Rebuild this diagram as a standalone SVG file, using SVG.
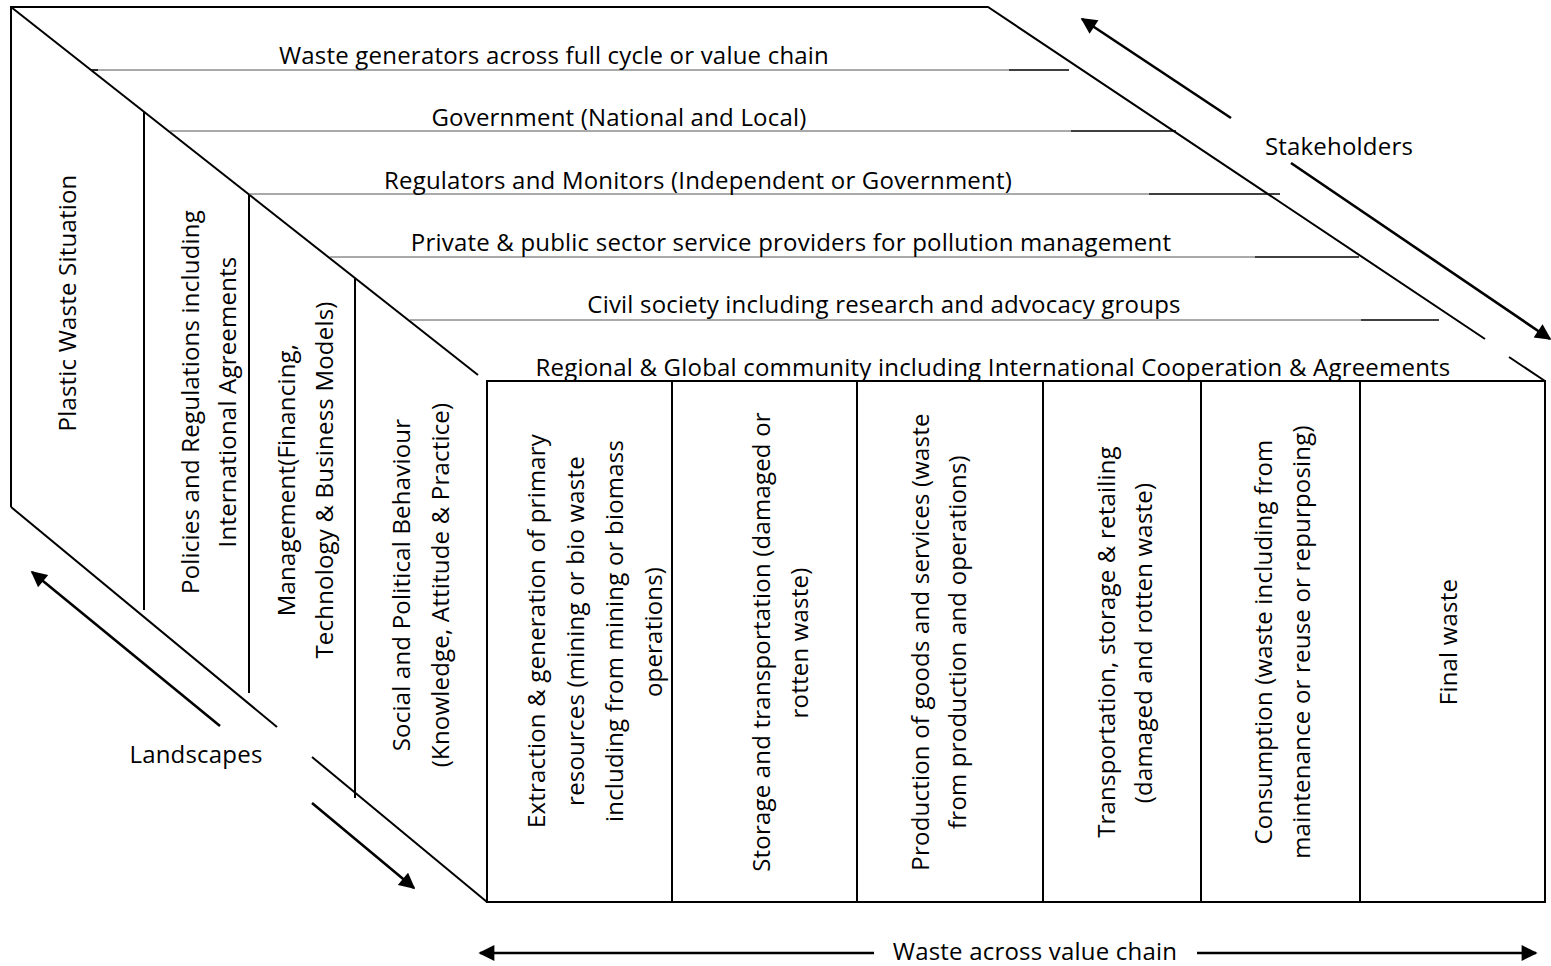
<svg xmlns="http://www.w3.org/2000/svg" width="1551" height="966" viewBox="0 0 1551 966">
<style>
text{font-family:"Open Sans",Lato,"Liberation Sans",sans-serif;font-size:24px;letter-spacing:0.2px;fill:#000}
.c{text-anchor:middle}
.edge{stroke:#000;stroke-width:2;fill:none}
.thin{stroke:#555;stroke-width:1;fill:none}
.tick{stroke:#000;stroke-width:1.6;fill:none}
.arr{stroke:#000;stroke-width:2.6;fill:none}
</style>
<defs>
<marker id="ah" viewBox="0 0 10 10" refX="9" refY="5" markerWidth="20" markerHeight="16" markerUnits="userSpaceOnUse" orient="auto">
<path d="M0,0 L10,5 L0,10 z" fill="#000"/>
</marker>
</defs>
<rect width="1551" height="966" fill="#fff"/>

<g id="frame">
<path class="edge" d="M11,507 L11,7 L988,7 L1485,339"/>
<path class="edge" d="M1509,357 L1545,381"/>
<path class="edge" d="M11,7 L478,375"/>
<path class="edge" d="M11,507 L277,727"/>
<path class="edge" d="M312,757 L487,902"/>
</g>

<g id="stakeholder-rows">
<path class="thin" d="M91,70 H1009"/>
<path class="tick" d="M91,70 H98 M1009,70 H1069"/>
<path class="thin" d="M170,131 H1071"/>
<path class="tick" d="M1071,131 H1176"/>
<path class="thin" d="M249,194 H1149"/>
<path class="tick" d="M1149,194 H1280"/>
<path class="thin" d="M330,257 H1255"/>
<path class="tick" d="M1255,257 H1359"/>
<path class="thin" d="M410,320 H1361"/>
<path class="tick" d="M1361,320 H1439"/>
<text class="c" x="554" y="64">Waste generators across full cycle or value chain</text>
<text class="c" x="619" y="126">Government (National and Local)</text>
<text class="c" x="698" y="189">Regulators and Monitors (Independent or Government)</text>
<text class="c" x="791" y="251">Private &amp; public sector service providers for pollution management</text>
<text class="c" x="884" y="313">Civil society including research and advocacy groups</text>
<text class="c" x="993" y="376">Regional &amp; Global community including International Cooperation &amp; Agreements</text>
</g>

<g id="landscape-panels">
<path class="edge" d="M144,112 V610"/>
<path class="edge" d="M249,195 V693"/>
<path class="edge" d="M355,278 V798"/>
<text class="c" transform="translate(68,303) rotate(-90)" dy="8">Plastic Waste Situation</text>
<text class="c" transform="translate(191,402) rotate(-90)" dy="8">Policies and Regulations including</text>
<text class="c" transform="translate(228,402) rotate(-90)" dy="8">International Agreements</text>
<text class="c" transform="translate(287,480) rotate(-90)" dy="8">Management(Financing,</text>
<text class="c" transform="translate(325,480) rotate(-90)" dy="8">Technology &amp; Business Models)</text>
<text class="c" transform="translate(402,585) rotate(-90)" dy="8">Social and Political Behaviour</text>
<text class="c" transform="translate(441,585) rotate(-90)" dy="8">(Knowledge, Attitude &amp; Practice)</text>
</g>

<g id="value-chain-box">
<rect class="edge" x="487" y="381" width="1058" height="521"/>
<path class="edge" d="M672,381 V902 M857,381 V902 M1043,381 V902 M1201,381 V902 M1360,381 V902"/>
</g>

<g id="col-extraction">
<text class="c" transform="translate(537,631) rotate(-90)" dy="8">Extraction &amp; generation of primary</text>
<text class="c" transform="translate(576,631) rotate(-90)" dy="8">resources (mining or bio waste</text>
<text class="c" transform="translate(615,631) rotate(-90)" dy="8">including from mining or biomass</text>
<text class="c" transform="translate(654,632) rotate(-90)" dy="8">operations)</text>
</g>
<g id="col-storage">
<text class="c" transform="translate(762,642) rotate(-90)" dy="8">Storage and transportation (damaged or</text>
<text class="c" transform="translate(800,643) rotate(-90)" dy="8">rotten waste)</text>
</g>
<g id="col-production">
<text class="c" transform="translate(921,642) rotate(-90)" dy="8">Production of goods and services (waste</text>
<text class="c" transform="translate(958,642) rotate(-90)" dy="8">from production and operations)</text>
</g>
<g id="col-retail">
<text class="c" transform="translate(1107,642) rotate(-90)" dy="8">Transportation, storage &amp; retailing</text>
<text class="c" transform="translate(1144,643) rotate(-90)" dy="8">(damaged and rotten waste)</text>
</g>
<g id="col-consumption">
<text class="c" transform="translate(1264,642) rotate(-90)" dy="8">Consumption (waste including from</text>
<text class="c" transform="translate(1302,642) rotate(-90)" dy="8">maintenance or reuse or repurposing)</text>
</g>
<g id="col-final">
<text class="c" transform="translate(1449,642) rotate(-90)" dy="8">Final waste</text>
</g>

<g id="connectors">
<path class="arr" d="M1231,118 L1082,19" marker-end="url(#ah)"/>
<path class="arr" d="M1291,163 L1550,339" marker-end="url(#ah)"/>
<path class="arr" d="M220,726 L32,572" marker-end="url(#ah)"/>
<path class="arr" d="M312,803 L414,888" marker-end="url(#ah)"/>
<path class="arr" d="M874,953 L480,953" marker-end="url(#ah)"/>
<path class="arr" d="M1197,953 L1536,953" marker-end="url(#ah)"/>
</g>

<g id="axis-labels">
<text class="c" x="1339" y="155">Stakeholders</text>
<text class="c" x="196" y="763">Landscapes</text>
<text class="c" x="1035" y="960">Waste across value chain</text>
</g>
</svg>
